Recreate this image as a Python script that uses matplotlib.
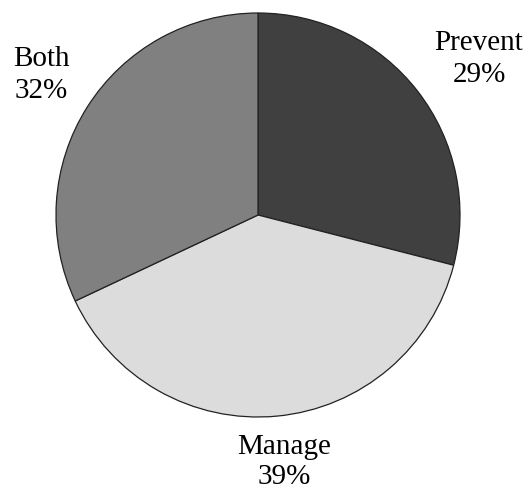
import matplotlib.pyplot as plt

labels = ["Prevent", "Manage", "Both"]
shares = [29, 39, 32]
colors = ["#404040", "#dcdcdc", "#808080"]

fig = plt.figure(figsize=(5.28, 4.93), dpi=100)
ax = fig.add_axes([0, 0, 1, 1])

ax.pie(shares, colors=colors, startangle=90, counterclock=False,
       center=(258, 278), radius=202,
       wedgeprops=dict(edgecolor="#222222", linewidth=0.9))
ax.set_xlim(0, 528)
ax.set_ylim(0, 493)
ax.set_aspect("equal")
ax.axis("off")

font = dict(family="Liberation Serif", fontsize=21, ha="center", va="center",
            linespacing=1.25)
label_pos = {"Prevent": (479, 434), "Both": (41, 418), "Manage": (284, 31)}
for name, val in zip(labels, shares):
    x, y = label_pos[name]
    ax.text(x, y, f"{name}\n{val}%", **font)

fig.savefig("out.png", dpi=100)
